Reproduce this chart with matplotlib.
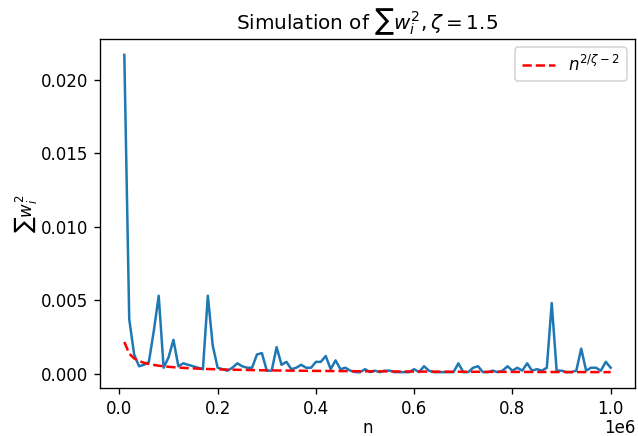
import numpy as np
import matplotlib
matplotlib.use("Agg")
import matplotlib.pyplot as plt

zeta = 1.5
n_values = np.arange(1, 101) * 10000
sum_w2 = [
    0.0217, 0.0037, 0.0013, 0.0005, 0.0006, 0.0008, 0.0029, 0.0053, 0.0004, 0.0011,
    0.0023, 0.0005, 0.0007, 0.0006, 0.0005, 0.0004, 0.0003, 0.0053, 0.0019, 0.0004,
    0.0003, 0.0002, 0.0004, 0.0007, 0.0005, 0.0004, 0.0004, 0.0013, 0.0014, 0.0002,
    0.0002, 0.0018, 0.0006, 0.0008, 0.0003, 0.0004, 0.0006, 0.0004, 0.0004, 0.0008,
    0.0008, 0.0012, 0.0003, 0.0009, 0.0003, 0.0004, 0.0002, 0.0001, 0.0001, 0.0003,
    0.0001, 0.0002, 0.0001, 0.0002, 0.0002, 0.0001, 0.0001, 0.0001, 0.0001, 0.0003,
    0.0001, 0.0005, 0.0002, 0.0001, 0.0001, 0.0001, 0.0001, 0.0001, 0.0007, 0.0001,
    0.0001, 0.0004, 0.0005, 0.0001, 0.0001, 0.0002, 0.0001, 0.0002, 0.0005, 0.0002,
    0.0004, 0.0002, 0.0007, 0.0002, 0.0003, 0.0002, 0.0004, 0.0048, 0.0002, 0.0002,
    0.0001, 0.0001, 0.0002, 0.0017, 0.0002, 0.0004, 0.0004, 0.0002, 0.0008, 0.0004,
]
theory = n_values.astype(float) ** (2 / zeta - 2)

DPI = 120
fig, ax = plt.subplots(figsize=(638 / DPI, 436 / DPI), dpi=DPI)
fig.subplots_adjust(left=100 / 638, right=635 / 638, top=1 - 39 / 436, bottom=1 - 388 / 436)
ax.plot(n_values, sum_w2, color="#1f77b4")
ax.plot(n_values, theory, "r--", label=r"$n^{2/\zeta-2}$")
ax.set_title(r"Simulation of $\sum w_i^2, \zeta=1.5$")
ax.set_xlabel("n", labelpad=1)
ax.set_ylabel(r"$\sum w_i^2$", labelpad=1)
ax.xaxis.OFFSETTEXTPAD = 1
ax.legend(loc="upper right")
fig.savefig("out.png", dpi=DPI)
